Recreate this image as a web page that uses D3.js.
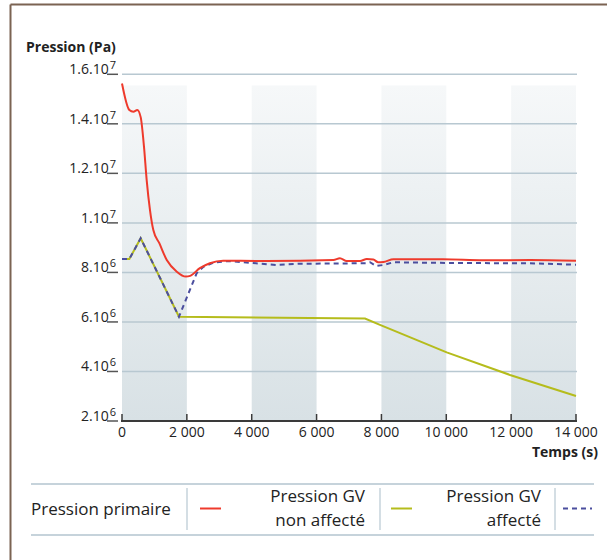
<!DOCTYPE html>
<html>
<head>
<meta charset="utf-8">
<script src="https://cdn.jsdelivr.net/npm/d3@7"></script>
<style>
  body { margin: 0; background: #fff; }
  svg { display: block; font-family: "Open Sans", sans-serif; }
</style>
</head>
<body>
<div id="chart"></div>
<script>
const width = 607;
const height = 560;

// data (time in s, pressure in Pa)
const primaryT = [0, 226, 350, 473, 576, 678, 761, 863, 966, 1151, 1380, 1690, 1970, 2100, 2400, 2710, 3120, 4460, 6520, 6720, 6930, 7340, 7550, 7750, 7900, 8060, 8370, 9900, 11140, 12580, 14000];
const primaryP = [15.63e6, 14.56e6, 14.49e6, 14.56e6, 14.27e6, 13.08e6, 11.73e6, 10.52e6, 9.71e6, 9.18e6, 8.5e6, 8.03e6, 7.83e6, 7.86e6, 8.17e6, 8.37e6, 8.47e6, 8.46e6, 8.5e6, 8.57e6, 8.46e6, 8.46e6, 8.54e6, 8.52e6, 8.41e6, 8.42e6, 8.53e6, 8.53e6, 8.49e6, 8.5e6, 8.47e6];

const nonAffT = [0, 226, 576, 1757, 7494, 7956, 10013, 11966, 14000];
const nonAffP = [8.54e6, 8.54e6, 9.38e6, 6.21e6, 6.14e6, 5.88e6, 4.77e6, 3.86e6, 3.01e6];

const affT = [0, 226, 576, 1757, 2300, 2510, 2820, 3230, 3950, 4770, 5490, 7545, 7650, 7833, 8060, 8370, 10115, 12580, 14000];
const affP = [8.54e6, 8.54e6, 9.38e6, 6.21e6, 7.96e6, 8.23e6, 8.39e6, 8.46e6, 8.39e6, 8.3e6, 8.35e6, 8.37e6, 8.41e6, 8.26e6, 8.3e6, 8.41e6, 8.38e6, 8.37e6, 8.31e6];

const xTicks = [0, 2000, 4000, 6000, 8000, 10000, 12000, 14000];
const yTicks = [2e6, 4e6, 6e6, 8e6, 1e7, 1.2e7, 1.4e7, 1.6e7];
const yTickMain = ['2.10', '4.10', '6.10', '8.10', '1.10', '1.2.10', '1.4.10', '1.6.10'];
const yTickExp = ['6', '6', '6', '6', '7', '7', '7', '7'];
const bands = [[0, 2000], [4000, 6000], [8000, 10000], [12000, 14000]];
const bandTop = 15.55e6;

const legendItems = [
  { lines: ['Pression primaire'], color: '#ee3a2c', dash: null },
  { lines: ['Pression GV', 'non affecté'], color: '#b5bc1c', dash: null },
  { lines: ['Pression GV', 'affecté'], color: '#4b4e9e', dash: '5,4' }
];

const xScale = d3.scaleLinear().domain([0, 14000]).range([122, 576]);
const yScale = d3.scaleLinear().domain([2e6, 16e6]).range([421, 74.3]);

const svg = d3.select('#chart').append('svg')
  .attr('width', width)
  .attr('height', height);

// frame (top + left brown border)
svg.append('line').attr('x1', 10.5).attr('x2', width).attr('y1', 4.5).attr('y2', 4.5)
  .attr('stroke', '#7b6352').attr('stroke-width', 2);
svg.append('line').attr('x1', 10.5).attr('x2', 10.5).attr('y1', 4.5).attr('y2', height)
  .attr('stroke', '#7b6352').attr('stroke-width', 2);

// shaded bands
const defs = svg.append('defs');
const grad = defs.append('linearGradient').attr('id', 'bandGrad')
  .attr('x1', 0).attr('x2', 0).attr('y1', 0).attr('y2', 1);
grad.append('stop').attr('offset', '0%').attr('stop-color', '#f6f8f9');
grad.append('stop').attr('offset', '100%').attr('stop-color', '#d8e1e5');

svg.append('g').selectAll('rect')
  .data(bands)
  .join('rect')
  .attr('x', d => xScale(d[0]))
  .attr('width', d => xScale(d[1]) - xScale(d[0]))
  .attr('y', yScale(bandTop))
  .attr('height', yScale(2e6) - yScale(bandTop))
  .attr('fill', 'url(#bandGrad)');

// gridlines
svg.append('g').selectAll('line')
  .data(yTicks.slice(1))
  .join('line')
  .attr('x1', xScale(0)).attr('x2', xScale(14000) + 1)
  .attr('y1', d => yScale(d)).attr('y2', d => yScale(d))
  .attr('stroke', '#b8c8d1').attr('stroke-width', 1.5);

// y labels
const yLab = svg.append('g');
yTicks.forEach((v, i) => {
  const y = yScale(v);
  yLab.append('line').attr('x1', 107).attr('x2', 118).attr('y1', y).attr('y2', y)
    .attr('stroke', '#555').attr('stroke-width', 1.5);
  const t = yLab.append('text')
    .attr('x', 116).attr('y', y)
    .attr('text-anchor', 'end')
    .attr('font-size', 14)
    .attr('fill', '#222');
  t.append('tspan').text(yTickMain[i]);
  t.append('tspan').attr('dy', -5).attr('dx', 1).attr('font-size', 11).text(yTickExp[i]);
});

svg.append('text').attr('x', 26).attr('y', 52)
  .attr('font-size', 14).attr('font-weight', 'bold').attr('fill', '#222')
  .text('Pression (Pa)');

// x axis
svg.append('line')
  .attr('x1', xScale(0) - 1).attr('x2', xScale(14000) + 1)
  .attr('y1', yScale(2e6)).attr('y2', yScale(2e6))
  .attr('stroke', '#3a3a3a').attr('stroke-width', 2);
const xAx = svg.append('g');
xAx.selectAll('line')
  .data(xTicks)
  .join('line')
  .attr('x1', d => xScale(d)).attr('x2', d => xScale(d))
  .attr('y1', yScale(2e6)).attr('y2', yScale(2e6) - 7)
  .attr('stroke', '#3a3a3a').attr('stroke-width', 1.5);
xAx.selectAll('text')
  .data(xTicks)
  .join('text')
  .attr('x', d => xScale(d)).attr('y', 437)
  .attr('text-anchor', 'middle')
  .attr('font-size', 14).attr('fill', '#222')
  .text(d => d3.format(',')(d).replace(',', ' '));

svg.append('text').attr('x', 598).attr('y', 457)
  .attr('text-anchor', 'end')
  .attr('font-size', 14).attr('font-weight', 'bold').attr('fill', '#222')
  .text('Temps (s)');

// curves
function series(ts, ps) { return ts.map((t, i) => [t, ps[i]]); }
const smooth = d3.line().x(d => xScale(d[0])).y(d => yScale(d[1])).curve(d3.curveMonotoneX);
const straight = d3.line().x(d => xScale(d[0])).y(d => yScale(d[1]));

svg.append('path').datum(series(nonAffT, nonAffP))
  .attr('d', straight).attr('fill', 'none')
  .attr('stroke', legendItems[1].color).attr('stroke-width', 2);
svg.append('path').datum(series(affT, affP))
  .attr('d', straight).attr('fill', 'none')
  .attr('stroke', legendItems[2].color).attr('stroke-width', 2)
  .attr('stroke-dasharray', '5,4');
svg.append('path').datum(series(primaryT, primaryP))
  .attr('d', smooth).attr('fill', 'none')
  .attr('stroke', legendItems[0].color).attr('stroke-width', 2);

// legend
const lg = svg.append('g');
lg.append('line').attr('x1', 31).attr('x2', 594).attr('y1', 484).attr('y2', 484)
  .attr('stroke', '#c6d3db').attr('stroke-width', 2);
lg.append('line').attr('x1', 31).attr('x2', 594).attr('y1', 535).attr('y2', 535)
  .attr('stroke', '#c6d3db').attr('stroke-width', 2);

const textEnd = [174, 365, 541];
const sepX = [187, 380, 555];
const swatch = [[200, 221], [391, 412], [563, 592]];
legendItems.forEach((it, i) => {
  const t = lg.append('text')
    .attr('text-anchor', i === 0 ? 'start' : 'end')
    .attr('font-size', 17).attr('fill', '#222');
  if (it.lines.length === 1) {
    t.append('tspan').attr('x', 31).attr('y', 515).text(it.lines[0]);
  } else {
    t.append('tspan').attr('x', textEnd[i]).attr('y', 502).text(it.lines[0]);
    t.append('tspan').attr('x', textEnd[i]).attr('y', 526).text(it.lines[1]);
  }
  lg.append('line').attr('x1', sepX[i]).attr('x2', sepX[i]).attr('y1', 488).attr('y2', 530)
    .attr('stroke', '#c6d3db').attr('stroke-width', 1.5);
  lg.append('line').attr('x1', swatch[i][0]).attr('x2', swatch[i][1]).attr('y1', 508.5).attr('y2', 508.5)
    .attr('stroke', it.color).attr('stroke-width', 2)
    .attr('stroke-dasharray', it.dash);
});
</script>
</body>
</html>
